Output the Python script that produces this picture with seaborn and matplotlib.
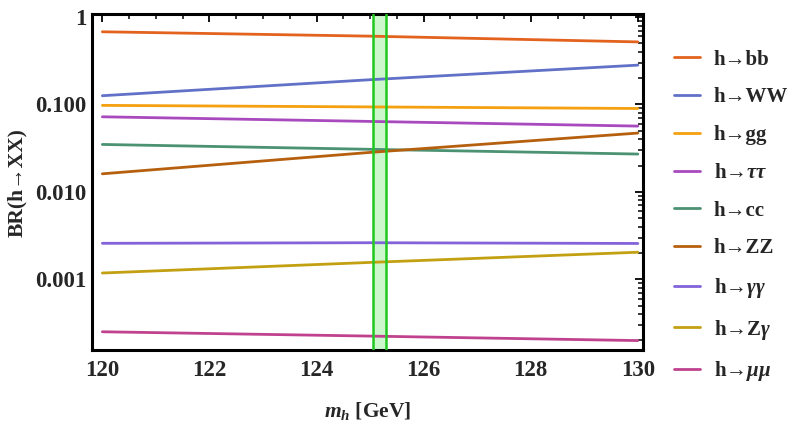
import matplotlib
matplotlib.use("Agg")
import matplotlib.pyplot as plt
import matplotlib.ticker as mticker
import seaborn as sns
import pandas as pd

# Higgs branching ratios vs mass
masses = [120, 125, 130]
br_bb = [0.679, 0.605, 0.52]
br_ww = [0.126, 0.192, 0.282]
br_gg = [0.0977, 0.0938, 0.090]
br_tautau = [0.0723, 0.064, 0.0566]
br_cc = [0.0349, 0.0307, 0.0271]
br_zz = [0.0161, 0.0283, 0.0471]
br_gamgam = [0.00258, 0.00262, 0.00257]
br_zgam = [0.00118, 0.00156, 0.00204]
br_mumu = [0.000251, 0.000224, 0.000199]

labels = [r"h→bb", r"h→WW", r"h→gg", r"h→$\tau\tau$", r"h→cc",
          r"h→ZZ", r"h→$\gamma\gamma$", r"h→Z$\gamma$", r"h→$\mu\mu$"]
colors = ["#E2621E", "#6271C8", "#F5A00F", "#A849BE", "#4B9273",
          "#B6600F", "#8363D9", "#C3A012", "#C0428F"]
band_lo, band_hi = 125.06, 125.30

series = [br_bb, br_ww, br_gg, br_tautau, br_cc, br_zz, br_gamgam, br_zgam, br_mumu]
rows = []
for lab, vals in zip(labels, series):
    for m, v in zip(masses, vals):
        rows.append({"mh": m, "BR": v, "channel": lab})
df = pd.DataFrame(rows)

sns.set_style("white")
plt.rcParams["font.family"] = ["Liberation Serif", "DejaVu Serif"]
plt.rcParams["font.weight"] = "bold"
plt.rcParams["mathtext.fontset"] = "custom"
plt.rcParams["mathtext.rm"] = "Liberation Serif:bold"
plt.rcParams["mathtext.it"] = "Liberation Serif:bold:italic"
plt.rcParams["mathtext.bf"] = "Liberation Serif:bold"

fig = plt.figure(figsize=(7.97, 4.29), dpi=100)
ax = fig.add_axes([0.115, 0.184, 0.692, 0.783])

sns.lineplot(data=df, x="mh", y="BR", hue="channel", hue_order=labels,
             palette=colors, linewidth=2, ax=ax)

ax.axvspan(band_lo, band_hi, facecolor="#ccf7cc", edgecolor="none", zorder=0.5)
ax.axvline(band_lo, color="#1ec81e", lw=1.8, zorder=3)
ax.axvline(band_hi, color="#1ec81e", lw=1.8, zorder=3)

ax.set_yscale("log")
ax.set_xlim(119.8, 130.1)
ax.set_ylim(1.55e-4, 1.08)

ax.yaxis.set_major_locator(mticker.FixedLocator([1e-3, 1e-2, 1e-1, 1]))
ax.yaxis.set_major_formatter(mticker.FixedFormatter(["0.001", "0.010", "0.100", "1"]))
ax.yaxis.set_minor_locator(mticker.LogLocator(base=10, subs=range(2, 10)))
ax.yaxis.set_minor_formatter(mticker.NullFormatter())
ax.xaxis.set_major_locator(mticker.MultipleLocator(2))
ax.xaxis.set_minor_locator(mticker.MultipleLocator(0.5))

ax.tick_params(which="both", direction="in", top=True, right=True, color="black")
ax.tick_params(which="major", length=6, width=1.3, labelsize=16.5)
ax.tick_params(which="minor", length=3.5, width=1.1)
ax.tick_params(axis="x", which="major", pad=7)
for lab in ax.get_xticklabels() + ax.get_yticklabels():
    lab.set_fontweight("bold")
for sp in ax.spines.values():
    sp.set_linewidth(2.2)
    sp.set_color("black")

ax.set_xlabel(r"$m_h$ [GeV]", fontsize=15.5, fontweight="bold", labelpad=14)
ax.set_ylabel("BR(h→XX)", fontsize=15.5, fontweight="bold", labelpad=6)

handles, _ = ax.get_legend_handles_labels()
ax.legend(handles, labels, loc="upper left", bbox_to_anchor=(1.022, 0.95),
          frameon=False, handlelength=1.25, handletextpad=0.65,
          labelspacing=0.85, prop={"weight": "bold", "size": 15})

fig.savefig("out.png", dpi=100)
